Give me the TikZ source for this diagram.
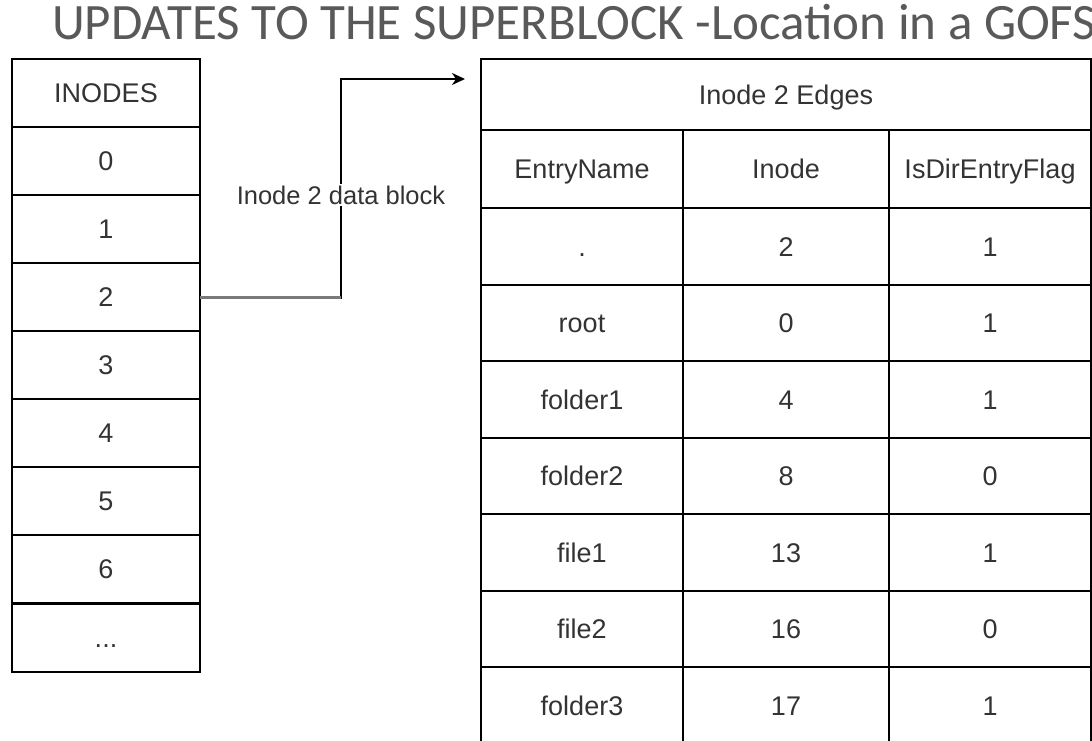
\documentclass[tikz,border=0pt]{standalone}
\usepackage{fontspec}
\setmainfont{Liberation Sans}
\newfontfamily\titlefont{Carlito}
\usetikzlibrary{arrows.meta}
\definecolor{titlegray}{HTML}{595959}
\definecolor{txt}{HTML}{333333}
\definecolor{linkgray}{HTML}{7A7A7A}
\begin{document}
\begin{tikzpicture}[x=1pt,y=-1pt,
  cell/.style={draw=black,line width=2pt,rectangle,inner sep=0pt,outer sep=0pt,
    text=txt,font=\fontsize{27}{30}\selectfont,text height=19.5pt,text depth=0pt},
  lcell/.style={cell,minimum width=188pt,minimum height=68pt},
  ecol/.style={cell,minimum width=202pt,minimum height=76.5pt},
  icol/.style={cell,minimum width=206pt,minimum height=76.5pt},
  link/.style={line width=2pt,draw=black}]
\useasboundingbox (0,0) rectangle (1092,740);

% heading
\node[anchor=base west,inner sep=0pt,text=titlegray,
  font=\titlefont\fontsize{51}{56}\selectfont] (title) at (52,39)
  {UPDATES TO THE SUPERBLOCK -Location in a GOFS};

% inode table
\node[lcell] (inodes) at (106,93) {INODES};
\foreach \k/\t in {0/0,1/1,2/2,3/3,4/4,5/5,6/6}{
  \node[lcell] (in\k) at (106,{161+68*\k}) {\t};
}
\node[lcell] (indots) at (106,637.5) {...};

% directory entries of inode 2
\node[cell,minimum width=610pt,minimum height=71pt] (edges) at (786,94.5) {Inode 2 Edges};
\node[cell,minimum width=202pt,minimum height=78pt] (hname) at (582,169) {EntryName};
\node[cell,minimum width=206pt,minimum height=78pt] (hinode) at (786,169) {Inode};
\node[cell,minimum width=202pt,minimum height=78pt] (hflag) at (990,169) {IsDirEntryFlag};
\foreach \k/\n/\i/\f in {0/./2/1,1/root/0/1,2/folder1/4/1,3/folder2/8/0,
                          4/file1/13/1,5/file2/16/0,6/folder3/17/1}{
  \node[ecol] (name\k) at (582,{246.25+76.5*\k}) {\n};
  \node[icol] (inode\k) at (786,{246.25+76.5*\k}) {\i};
  \node[ecol] (flag\k) at (990,{246.25+76.5*\k}) {\f};
}

% pointer from inode 2 to its data block
\coordinate (bend1) at (341,297.5);
\coordinate (bend2) at (341,79);
\coordinate (target) at (465,79);
\draw[link,-{Stealth[length=13pt,width=12pt,inset=4pt]}]
  (in2.east |- bend1) -- (bend1) -- (bend2) -- (target);
\draw[line width=3pt,draw=linkgray] (in2.east |- bend1) -- (bend1);
\node[fill=white,inner sep=2pt,text=txt,font=\fontsize{25.5}{28}\selectfont]
  (lbl) at (341,195) {Inode 2 data block};
\end{tikzpicture}
\end{document}
